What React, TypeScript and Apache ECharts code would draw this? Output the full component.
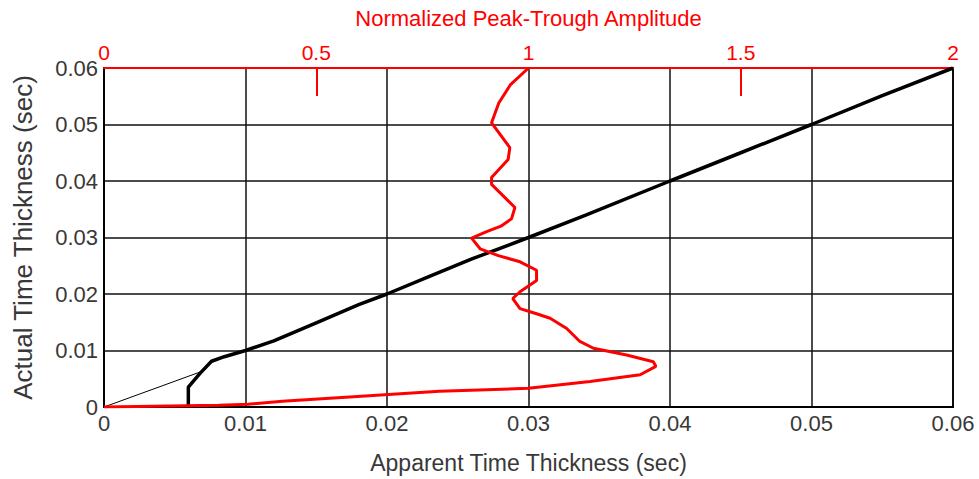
import React, { useEffect, useRef } from "react";
import * as echarts from "echarts";

// Apparent vs. actual time thickness (black, bottom/left axes)
const thicknessCurve: [number, number][] = [
  [0.00596, 0.0],
  [0.00596, 0.0035],
  [0.0068, 0.006],
  [0.0076, 0.0081],
  [0.0085, 0.0089],
  [0.01, 0.01],
  [0.012, 0.0117],
  [0.015, 0.0149],
  [0.018, 0.0181],
  [0.02, 0.02],
  [0.023, 0.0231],
  [0.026, 0.0262],
  [0.03, 0.03],
  [0.034, 0.0339],
  [0.04, 0.04],
  [0.045, 0.045],
  [0.05, 0.05],
  [0.055, 0.0551],
  [0.06, 0.06],
];

// Thin reference segment near the origin
const tuningSegment: [number, number][] = [
  [0, 0],
  [0.0068, 0.0062],
];

// Normalized peak-trough amplitude vs. actual thickness (red, top axis)
const amplitudeCurve: [number, number][] = [
  [0.0, 0.0],
  [0.27, 0.0003],
  [0.34, 0.0005],
  [0.42, 0.001],
  [0.56, 0.0017],
  [0.79, 0.0028],
  [1.0, 0.0033],
  [1.145, 0.0045],
  [1.263, 0.0057],
  [1.3, 0.0072],
  [1.294, 0.008],
  [1.231, 0.0092],
  [1.153, 0.0104],
  [1.121, 0.0116],
  [1.09, 0.0139],
  [1.051, 0.0157],
  [1.019, 0.0165],
  [0.98, 0.0174],
  [0.963, 0.0192],
  [0.98, 0.0204],
  [1.019, 0.0224],
  [1.019, 0.0242],
  [0.98, 0.0257],
  [0.929, 0.0268],
  [0.886, 0.028],
  [0.866, 0.0299],
  [0.9, 0.031],
  [0.935, 0.032],
  [0.96, 0.0333],
  [0.968, 0.0353],
  [0.913, 0.0394],
  [0.913, 0.0406],
  [0.952, 0.0438],
  [0.956, 0.0459],
  [0.913, 0.0503],
  [0.93, 0.0538],
  [0.957, 0.057],
  [1.0, 0.06],
];

const thicknessTicks = [0, 0.01, 0.02, 0.03, 0.04, 0.05, 0.06];
const amplitudeTicks = [0, 0.5, 1, 1.5, 2];

const FONT = "Arial, 'Liberation Sans', sans-serif";
const TEXT = "#383838";
const RED = "#ff0000";

export default function App() {
  const ref = useRef<HTMLDivElement>(null);

  useEffect(() => {
    if (!ref.current) return;
    const chart = echarts.init(ref.current, undefined, { renderer: "svg" });
    chart.setOption({
      animation: false,
      backgroundColor: "#ffffff",
      grid: {
        left: 104,
        right: 26,
        top: 68,
        bottom: 70,
        show: true,
        borderColor: "#000",
        borderWidth: 2,
      },
      xAxis: [
        {
          type: "value",
          position: "bottom",
          min: thicknessTicks[0],
          max: thicknessTicks[thicknessTicks.length - 1],
          interval: 0.01,
          name: "Apparent Time Thickness (sec)",
          nameLocation: "middle",
          nameGap: 44,
          nameTextStyle: { color: TEXT, fontSize: 23, fontFamily: FONT },
          axisLine: { show: true, lineStyle: { color: "#000", width: 2 } },
          axisTick: { show: false },
          axisLabel: {
            color: TEXT,
            fontSize: 22,
            fontFamily: FONT,
            margin: 5,
            formatter: (v: number) => String(Number(v.toFixed(2))),
          },
          splitLine: { show: true, lineStyle: { color: "#111", width: 1.5 } },
        },
        {
          type: "value",
          position: "top",
          min: amplitudeTicks[0],
          max: amplitudeTicks[amplitudeTicks.length - 1],
          interval: 0.5,
          name: "Normalized Peak-Trough Amplitude",
          nameLocation: "middle",
          nameGap: 39,
          nameTextStyle: { color: RED, fontSize: 22, fontFamily: FONT },
          axisLine: { show: true, lineStyle: { color: RED, width: 2 } },
          axisTick: {
            show: true,
            inside: true,
            length: 28,
            customValues: [0.5, 1.5],
            lineStyle: { color: RED, width: 2 },
          },
          axisLabel: {
            color: RED,
            fontSize: 21,
            fontFamily: FONT,
            margin: 5,
            formatter: (v: number) => String(v),
          },
          splitLine: { show: false },
        },
      ],
      yAxis: {
        type: "value",
        min: thicknessTicks[0],
        max: thicknessTicks[thicknessTicks.length - 1],
        interval: 0.01,
        name: "Actual Time Thickness (sec)",
        nameLocation: "middle",
        nameRotate: 90,
        nameGap: 68,
        nameTextStyle: { color: TEXT, fontSize: 26, fontFamily: FONT },
        axisLine: { show: true, lineStyle: { color: "#000", width: 2 } },
        axisTick: { show: false },
        axisLabel: {
          color: TEXT,
          fontSize: 22,
          fontFamily: FONT,
          margin: 6,
          formatter: (v: number) => String(Number(v.toFixed(2))),
        },
        splitLine: { show: true, lineStyle: { color: "#111", width: 1.5 } },
      },
      series: [
        {
          type: "line",
          xAxisIndex: 0,
          yAxisIndex: 0,
          data: tuningSegment,
          showSymbol: false,
          lineStyle: { color: "#000", width: 1 },
        },
        {
          type: "line",
          xAxisIndex: 0,
          yAxisIndex: 0,
          data: thicknessCurve,
          showSymbol: false,
          lineStyle: { color: "#000", width: 3.5 },
        },
        {
          type: "line",
          xAxisIndex: 1,
          yAxisIndex: 0,
          data: amplitudeCurve,
          showSymbol: false,
          lineStyle: { color: RED, width: 3 },
        },
      ],
    });
    return () => chart.dispose();
  }, []);

  return (
    <div
      ref={ref}
      style={{ position: "fixed", left: 0, top: 0, width: 979, height: 479 }}
    />
  );
}
